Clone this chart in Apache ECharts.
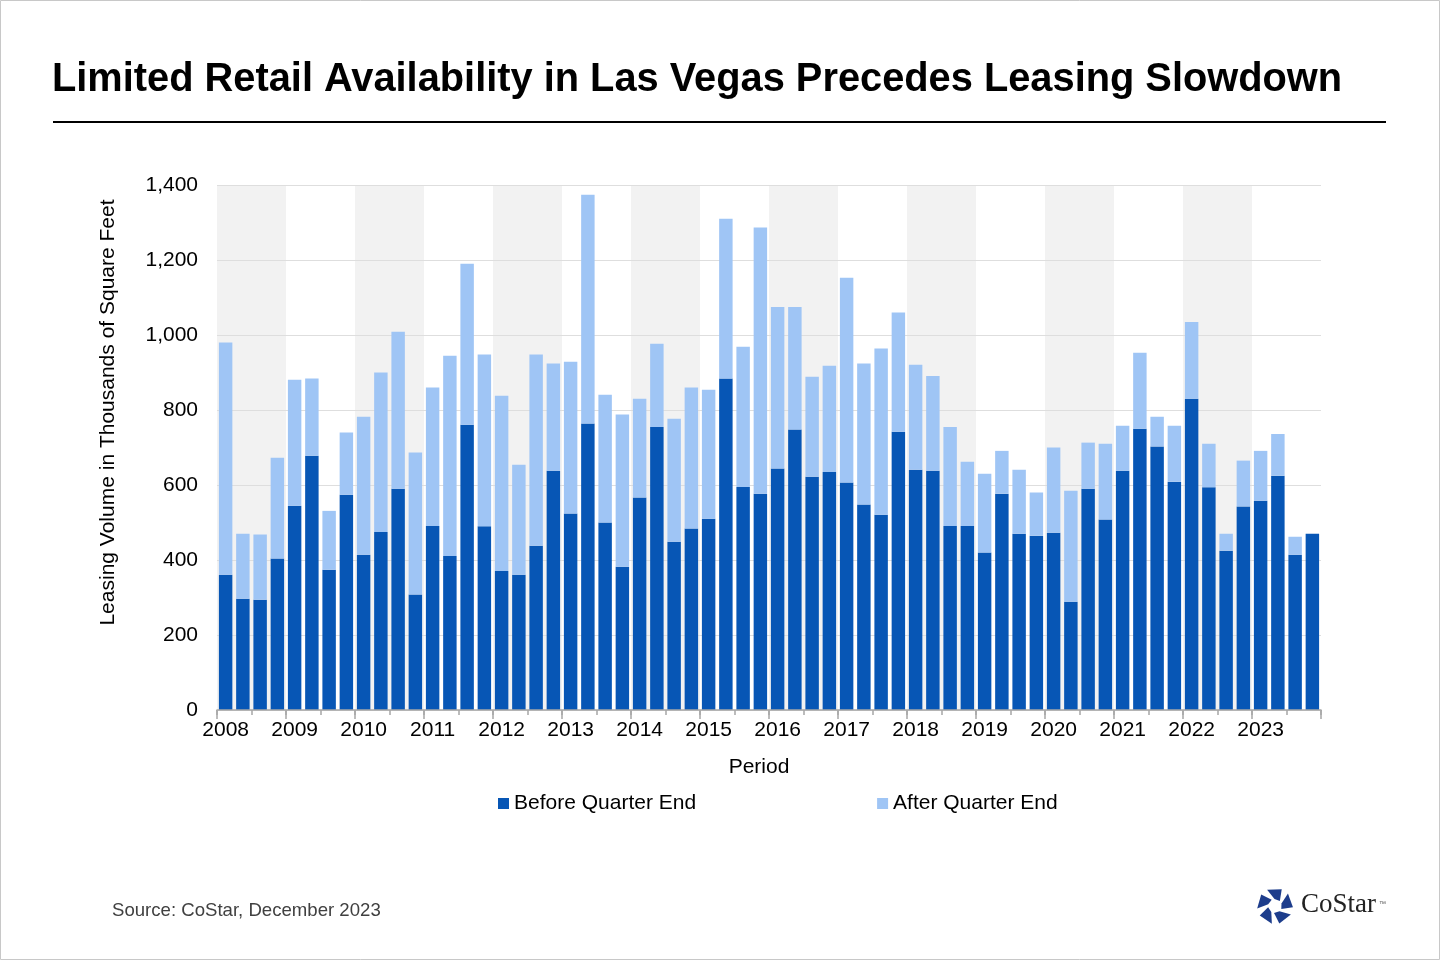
<!DOCTYPE html>
<html>
<head>
<meta charset="utf-8">
<script src="https://cdn.jsdelivr.net/npm/echarts@6/dist/echarts.min.js"></script>
<style>
html,body{margin:0;padding:0;background:#fff;}
#chart{width:1440px;height:960px;}
</style>
</head>
<body>
<div id="chart"></div>
<script>
// ---- data ----
const years = ['2008','2009','2010','2011','2012','2013','2014','2015','2016','2017','2018','2019','2020','2021','2022','2023'];
const quarterNames = ['Q1','Q2','Q3','Q4'];
const quarters = [];
years.forEach(y => quarterNames.forEach(q => quarters.push(y + ' ' + q)));

const beforeQuarterEnd = [
  361,297,294,404, 545,678,374,574, 414,475,590,308, 491,411,761,490,
  371,361,438,638, 524,764,500,382, 567,755,449,484, 510,884,595,577,
  644,748,622,635, 607,548,521,742, 641,638,491,491, 420,577,470,465,
  473,289,590,508, 638,750,703,609, 830,594,425,543, 558,625,414,470
];
const afterQuarterEnd = [
  619,173,174,269, 336,206,157,166, 368,425,419,379, 369,534,429,458,
  467,293,510,286, 405,610,341,406, 263,222,328,376, 344,426,374,710,
  431,327,267,283, 546,376,443,318, 280,253,264,171, 210,114,171,115,
  227,296,123,202, 120,203,79,149, 205,116,45,122, 133,111,48,0
];
const yTicks = [0,200,400,600,800,1000,1200,1400];

// ---- chart ----
const chart = echarts.init(document.getElementById('chart'));
const FONT = 'Liberation Sans, Arial, sans-serif';

function logoPieces(cx, cy) {
  const out = [];
  const r1 = 7, r2 = 18;
  const P = (r, deg) => [cx + r * Math.cos(deg * Math.PI / 180), cy + r * Math.sin(deg * Math.PI / 180)];
  for (let k = 0; k < 5; k++) {
    const a = -90 + 72 * k;
    out.push({
      type: 'polygon',
      shape: { points: [P(r2, a - 26), P(r2, a + 22), P(r1, a + 44), P(r1, a - 4)] },
      style: { fill: '#1d3d8c' }
    });
  }
  return out;
}

const option = {
  backgroundColor: '#ffffff',
  animation: false,
  textStyle: { fontFamily: FONT },
  grid: { left: 217, right: 119, top: 185, bottom: 250, containLabel: false },
  legend: {
    left: 493, top: 788,
    itemWidth: 11, itemHeight: 11, itemGap: 181,
    icon: 'rect',
    textStyle: { fontSize: 21, color: '#000', fontFamily: FONT },
    data: ['Before Quarter End', 'After Quarter End']
  },
  xAxis: [
    {
      type: 'category',
      data: quarters,
      position: 'bottom',
      z: 3,
      boundaryGap: true,
      name: 'Period',
      nameLocation: 'middle',
      nameGap: 47,
      nameTextStyle: { fontSize: 21, color: '#000', fontFamily: FONT, padding: [0, 20, 0, 0] },
      axisLine: { show: true, lineStyle: { color: '#a6a6a6', width: 1.5 } },
      axisTick: { show: true, interval: 1, length: 5, lineStyle: { color: '#a6a6a6', width: 1.5 } },
      axisLabel: {
        interval: 3, margin: 10, fontSize: 21, color: '#000', fontFamily: FONT,
        formatter: v => v.slice(0, 4)
      },
      splitLine: { show: false }
    },
    {
      type: 'category',
      data: years,
      position: 'bottom',
      offset: 0,
      z: 0,
      boundaryGap: true,
      axisLine: { show: false },
      axisTick: { show: true, interval: 0, length: 9, lineStyle: { color: '#a6a6a6', width: 1.5 } },
      axisLabel: { show: false },
      splitArea: { show: true, interval: 0, areaStyle: { color: ['#f2f2f2', 'rgba(255,255,255,0)'] } },
      splitLine: { show: false }
    }
  ],
  yAxis: {
    type: 'value',
    min: yTicks[0], max: yTicks[yTicks.length - 1], interval: 200,
    z: 1,
    name: 'Leasing Volume in Thousands of Square Feet',
    nameLocation: 'middle',
    nameGap: 98,
    nameTextStyle: { fontSize: 21, color: '#000', fontFamily: FONT, padding: [0, 0, 0, 70] },
    axisLine: { show: false },
    axisTick: { show: false },
    axisLabel: {
      margin: 19, fontSize: 21, color: '#000', fontFamily: FONT,
      formatter: v => v.toLocaleString('en-US')
    },
    splitLine: { show: true, lineStyle: { color: '#dedede', width: 1 } }
  },
  series: [
    {
      name: 'Before Quarter End', type: 'bar', stack: 'vol',
      xAxisIndex: 0, data: beforeQuarterEnd,
      barWidth: '78%', itemStyle: { color: '#0756b5' }, z: 2
    },
    {
      name: 'After Quarter End', type: 'bar', stack: 'vol',
      xAxisIndex: 0, data: afterQuarterEnd,
      barWidth: '78%', itemStyle: { color: '#9fc5f5' }, z: 2
    }
  ],
  graphic: [
    { type: 'rect', shape: { x: 0.5, y: 0.5, width: 1439, height: 959 }, style: { fill: 'none', stroke: '#c8c8c8', lineWidth: 1 }, silent: true },
    {
      type: 'text', left: 52, top: 60,
      style: { text: 'Limited Retail Availability in Las Vegas Precedes Leasing Slowdown', fontSize: 39.8, fontWeight: 'bold', fill: '#000', fontFamily: FONT }
    },
    { type: 'line', shape: { x1: 53, y1: 122, x2: 1386, y2: 122 }, style: { stroke: '#000', lineWidth: 2 } },
    {
      type: 'text', left: 112, top: 901,
      style: { text: 'Source: CoStar, December 2023', fontSize: 18.6, fill: '#404040', fontFamily: FONT }
    },
    { type: 'group', children: logoPieces(1275, 906) },
    {
      type: 'text', left: 1301, top: 891,
      style: { text: 'CoStar', fontSize: 27, fill: '#222', fontFamily: 'Liberation Serif, DejaVu Serif, serif' }
    },
    {
      type: 'text', left: 1379, top: 901,
      style: { text: '™', fontSize: 7, fill: '#555', fontFamily: FONT }
    }
  ]
};
chart.setOption(option);
</script>
</body>
</html>
